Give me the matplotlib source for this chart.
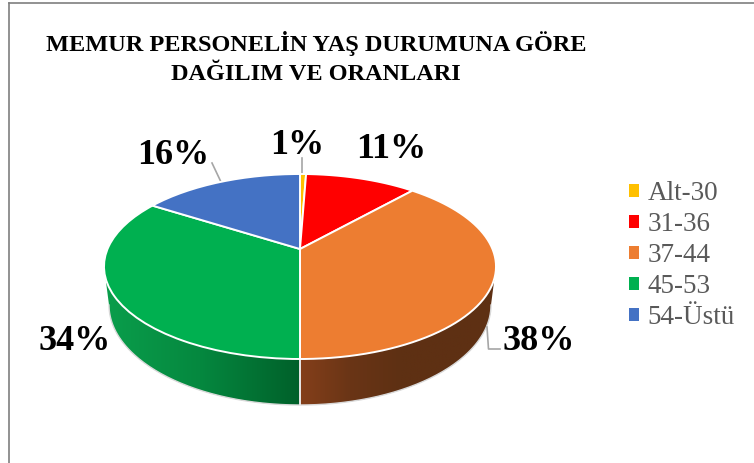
import numpy as np
import matplotlib
matplotlib.use('Agg')
import matplotlib.pyplot as plt
from matplotlib.colors import LinearSegmentedColormap
from matplotlib.lines import Line2D
from matplotlib.patches import Polygon
from matplotlib.transforms import Affine2D

# Datos del grafico (valores estimados, las etiquetas muestran el redondeo)
categorias = ['Alt-30', '31-36', '37-44', '45-53', '54-Üstü']
porcentajes = [0.6, 11.0, 38.4, 34.0, 16.0]
colores = ['#FFC000', '#FF0000', '#ED7D31', '#00B050', '#4472C4']
titulo = 'MEMUR PERSONELİN YAŞ DURUMUNA GÖRE\nDAĞILIM VE ORANLARI'

ANCHO, ALTO = 754, 463
CX, CY, RX, RY = 300, 266.5, 196, 92.5   # elipse superior en pixeles
C_PERSP = 0.189                          # desplazamiento del centro por la perspectiva
FUENTE = ['Liberation Serif', 'DejaVu Serif']

fig = plt.figure(figsize=(ANCHO / 100, ALTO / 100), dpi=100, facecolor='white')
ax = fig.add_axes([0, 0, 1, 1])

wedges, _ = ax.pie(porcentajes, colors=colores, startangle=90, counterclock=False)


# perspectiva del pastel 3D: el circulo sigue siendo circulo pero el centro sube
def perspectiva(xy):
    u, v = xy[:, 0], xy[:, 1]
    den = 1 + C_PERSP * v
    return np.column_stack([u * np.sqrt(1 - C_PERSP ** 2) / den, (v + C_PERSP) / den])


porciones = []
for w, color in zip(wedges, colores):
    escala = Affine2D().scale(300)
    path = w.get_path().transformed(w.get_patch_transform() + escala)
    xy = path.to_polygons()[0] / 300
    w.set_visible(False)
    p = Polygon(perspectiva(xy), closed=True, facecolor=color, edgecolor='white',
                linewidth=1.4, zorder=3, joinstyle='miter')
    ax.add_patch(p)
    porciones.append(p)

# ejes en unidades del pastel: radio 1 = RX horizontal, RY vertical
ax.set_aspect('auto')
ax.axis('off')


def px(x, y):
    return (x - CX) / RX, (CY - y) / RY


# borde lateral con degradado
t = np.linspace(0, np.pi, 200)
arriba = np.column_stack([np.cos(t), -np.sin(t)])
abajo_x = 191 / RX * np.cos(t)
abajo_y = (CY - 305) / RY - 100 / RY * np.sin(t)
abajo = np.column_stack([abajo_x, abajo_y])
lateral = np.vstack([arriba, abajo[::-1]])


def degradado(x0, x1, cols):
    cm = LinearSegmentedColormap.from_list('g', cols)
    xa, xb = px(x0, 0)[0], px(x1, 0)[0]
    ya, yb = px(0, 420)[1], px(0, 250)[1]
    im = ax.imshow(np.linspace(0, 1, 256).reshape(1, -1), cmap=cm, aspect='auto',
                   extent=[xa, xb, ya, yb], zorder=1, interpolation='bilinear')
    im.set_clip_path(Polygon(lateral, transform=ax.transData))


degradado(100, 300, ['#0A9F4C', '#05883F', '#00602A'])
degradado(300, 500, ['#843F1A', '#6A3516', '#5E3013', '#5E3013', '#5E3013'])

ax.set_xlim((0 - CX) / RX, (ANCHO - CX) / RX)
ax.set_ylim((CY - ALTO) / RY, CY / RY)

ax.plot(abajo_x, abajo_y, color='#D9D9D9', lw=1, zorder=2)
ax.plot(*zip(px(300, 359), px(300, 405)), color='#E8E8E8', lw=1.4, zorder=2)

# lineas guia
guia = {'color': '#A6A6A6', 'lw': 1.2, 'zorder': 2}
ax.plot(*zip(px(302, 158), px(302, 175)), **guia)
ax.plot(*zip(px(212, 163), px(221, 182)), **guia)
ax.plot(*zip(px(487, 327), px(488.5, 349), px(500, 349)), **guia)

# etiquetas de porcentaje
pos_etiquetas = [(297, 145), (391, 150), (539, 342), (75, 341), (173, 155)]
for v, (x, y) in zip(porcentajes, pos_etiquetas):
    ax.text(*px(x, y), f'{v:.0f}%', family=FUENTE, weight='bold', fontsize=26,
            color='black', ha='center', va='center', zorder=5)

# titulo
fig.text(316 / ANCHO, 1 - 58 / ALTO, titulo, family=FUENTE, weight='bold', fontsize=17.5,
         ha='center', va='center', linespacing=1.55, color='black')

# leyenda
ax.legend(porciones, categorias, loc='upper left', frameon=False,
          bbox_to_anchor=(621 / ANCHO, 1 - 173 / ALTO), bbox_transform=fig.transFigure,
          prop={'family': FUENTE, 'size': 19.5}, labelcolor='#595959',
          handlelength=0.35, handleheight=0.35, handletextpad=0.33,
          labelspacing=0.22, borderpad=0.3, borderaxespad=0)
for h in ax.get_legend().get_patches():
    h.set_edgecolor('none')

# marco del grafico
fig.add_artist(Line2D([9 / ANCHO, 9 / ANCHO], [0, 1 - 3 / ALTO], color='#7F7F7F', lw=1.2))
fig.add_artist(Line2D([9 / ANCHO, 1], [1 - 3 / ALTO, 1 - 3 / ALTO], color='#7F7F7F', lw=1.2))

fig.savefig('out.png', dpi=100, facecolor='white')
